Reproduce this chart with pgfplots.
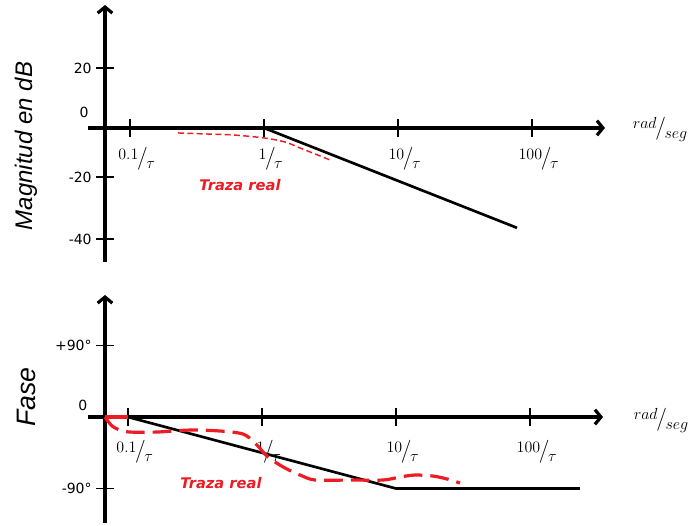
\documentclass[border=0pt]{standalone}
\usepackage{pgfplots}
\pgfplotsset{compat=1.18}
\usepackage{fontspec}
\setmainfont{DejaVu Sans}
\newfontfamily\arialf{Liberation Sans}
\usetikzlibrary{arrows.meta}
\definecolor{rojo}{RGB}{237,28,36}
\newcommand{\fr}[2]{\raisebox{0.40em}{\fontsize{13}{14}\selectfont$#1$}\kern-1pt{\fontsize{19}{20}\selectfont$/$}\kern-1pt\raisebox{-0.30em}{\fontsize{13}{14}\selectfont$#2$}}
\pgfplotsset{bode/.style={
  scale only axis, clip=false,
  axis x line=middle, axis y line=left,
  axis line style={line width=2.4pt,-{Straight Barb[length=4.5pt,width=11pt]}},
  x axis line style={shorten <=-12.75pt},
  xtick={0.1,1,10,100},
  xticklabels={\fr{0.1}{\tau},\fr{1}{\tau},\fr{10}{\tau},\fr{100}{\tau}},
  xminorticks=false, yminorticks=false,
  tick align=center, major tick length=13pt,
  tick style={black,line width=1.1pt},
  yticklabel style={font=\fontsize{10.5}{12}\selectfont, anchor=east},
  xticklabel style={anchor=north, xshift=5pt, inner sep=0pt},
}}
\begin{document}
\begin{tikzpicture}
\useasboundingbox (0,0) rectangle (524.25pt,-393.75pt);
% ---------- Magnitude ----------
\begin{semilogxaxis}[bode,
  at={(78.75pt,-196.5pt)}, anchor=south west,
  width=375pt, height=192.75pt,
  xmin=0.06508, xmax=350.6, ymin=-50.6, ymax=46.4,
  ytick={22.6,-18.5,-41.9}, yticklabels={20,-20,-40},
  xticklabel shift=8pt,
]
\addplot[black, line width=2pt] coordinates {(1,0) (77.3,-37.7)};
\addplot[rojo, line width=1.1pt, dash pattern=on 4.5pt off 2.5pt, smooth] coordinates {
(0.228,-1.89) (0.363,-2.26) (0.587,-2.64) (1,-3.77) (1.435,-5.3) (1.857,-7.55) (2.40,-9.8) (3.108,-12.08)};
\end{semilogxaxis}
% ---------- Phase ----------
\begin{semilogxaxis}[bode,
  at={(78.75pt,-392.25pt)}, anchor=south west,
  width=373.5pt, height=171pt,
  xmin=0.06733, xmax=350.6, ymin=-133.4, ymax=153.6,
  ytick={90,-90}, yticklabels={+90°,-90°},
  xticklabel shift=11pt,
]
\addplot[black, line width=2pt] coordinates {(0.1,0) (10,-90) (236,-90)};
\addplot[rojo, line width=2.4pt] coordinates {(0.06733,0) (0.1,0)};
\addplot[rojo, line width=2.4pt, dash pattern=on 14pt off 6pt, smooth] coordinates {
(0.06733,0) (0.0760,-11.3) (0.0871,-16.4) (0.1035,-18.9) (0.1644,-18.9) (0.290,-16.4)
(0.486,-17.6) (0.721,-21.4) (0.887,-32.7) (1.109,-50.4) (1.486,-64.2) (1.923,-73.0)
(2.489,-79.3) (4.54,-79.3) (8.0,-79.3) (10.7,-75.5) (13.87,-73.0) (18.88,-74.3)
(24.04,-78.0) (30.06,-83.1)};
\end{semilogxaxis}
% ---------- texts ----------
\node[rotate=90, font=\arialf\itshape\fontsize{18}{20}\selectfont] at (19.5pt,-109.5pt) {Magnitud en dB};
\node[rotate=90, font=\arialf\itshape\fontsize{20}{22}\selectfont] at (19.5pt,-297.75pt) {Fase};
\node[text=rojo, font=\bfseries\itshape\fontsize{11}{13}\selectfont] at (180pt,-138.75pt) {Traza real};
\node[text=rojo, font=\bfseries\itshape\fontsize{11}{13}\selectfont] at (165.75pt,-362.25pt) {Traza real};
\node[anchor=east, font=\fontsize{10.5}{12}\selectfont] at (70pt,-84pt) {0};
\node[anchor=east, font=\fontsize{10.5}{12}\selectfont] at (69pt,-303.75pt) {0};
\node[inner sep=0pt] at (495pt,-96.75pt) {\fr{rad}{seg}};
\node[inner sep=0pt] at (495.75pt,-315pt) {\fr{rad}{seg}};
\end{tikzpicture}
\end{document}
